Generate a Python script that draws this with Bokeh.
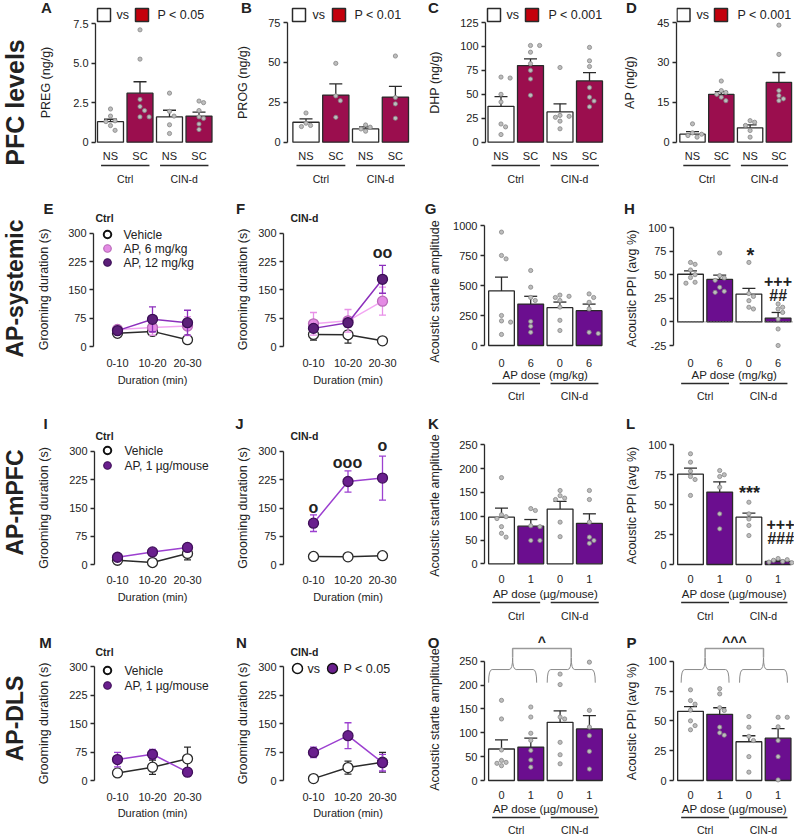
import math
from bokeh.plotting import figure
from bokeh.layouts import column, row
from bokeh.models import Range1d, Label, FixedTicker
from bokeh.embed import file_html
from bokeh.resources import INLINE

FONT = "Liberation Sans"
INK = "#222222"
EDGE = "#2a2a2a"
MAROON = "#9b0e4e"
RED = "#c4000c"
PURPLE = "#6b0e8f"
DOT_FILL = "#bdbdbd"
DOT_EDGE = "#858585"
VEH = dict(line="#2a2a2a", fill="white", edge="#2a2a2a", err="#2a2a2a")
AP6 = dict(line="#f2a6f2", fill="#e48be4", edge="#b86ab8", err="#e890e8")
AP12 = dict(line="#8c30bc", fill="#5c1f79", edge="#3a0f55", err="#8c30bc")
AP1 = dict(line="#9c40d0", fill="#6a1f8e", edge="#40105a", err="#9c40d0")
YLAB_SIZE = 12.5
TICK_SIZE = "11px"

# ---------------- data ----------------
row_titles = ["PFC levels", "AP-systemic", "AP-mPFC", "AP-DLS"]
group_names = ["Ctrl", "CIN-d"]
pfc_ticklabels = ["NS", "SC", "NS", "SC"]
sys_ticklabels = ["0", "6", "0", "6"]
loc_ticklabels = ["0", "1", "0", "1"]
time_bins = ["0-10", "10-20", "20-30"]

# A  PREG (ng/g)
preg_mean = [1.3, 3.1, 1.6, 1.65]
preg_sem = [0.15, 0.72, 0.42, 0.25]
preg_pts = [[2.1, 1.65, 1.35, 1.05, 0.75, 1.3],
            [7.1, 5.25, 2.7, 2.25, 2.0, 1.6, 1.6],
            [3.1, 1.95, 1.65, 1.1, 0.55],
            [2.6, 2.5, 2.0, 1.6, 1.5, 1.15, 0.8]]
# B  PROG (ng/g)
prog_mean = [12.5, 29.5, 8.3, 28.3]
prog_sem = [2.1, 7.0, 1.3, 6.7]
prog_pts = [[18.3, 11.9, 10.5, 9.8], [49.4, 29, 26, 15.6],
            [10.8, 9.4, 8.3, 6.9], [54, 28, 24, 15]]
# C  DHP (ng/g)
dhp_mean = [37.5, 80, 31.6, 64]
dhp_sem = [10, 7, 8.5, 8.6]
dhp_pts = [[68, 67, 50, 42, 19, 16, 8], [101, 101, 94, 82, 75, 66, 49],
           [78, 28, 27, 26, 22, 14], [99, 85, 79, 57, 47, 43, 37]]
# D  AP (ng/g)
ap_mean = [3.0, 18.0, 5.4, 22.5]
ap_sem = [1.0, 1.0, 1.1, 3.7]
ap_pts = [[6.9, 3.5, 3.0, 2.5, 1.9], [23, 19.4, 18.7, 18, 16.9, 15.6],
          [8.1, 7.5, 6.3, 4.4, 1.9], [44, 33, 19.4, 17.5, 16.3, 15.6]]

# E / F  grooming (s), systemic AP
e_veh, e_veh_sem = [35, 40, 18], [5, 8, 8]
e_ap6, e_ap6_sem = [45, 50, 54], [5, 20, 25]
e_ap12, e_ap12_sem = [42, 72, 63], [5, 33, 33]
f_veh, f_veh_sem = [32, 31, 15], [15, 22, 2]
f_ap6, f_ap6_sem = [60, 68, 120], [30, 30, 37]
f_ap12, f_ap12_sem = [48, 63, 178], [8, 10, 37]
# G  startle, systemic
g_mean = [455, 345, 315, 290]
g_sem = [115, 65, 47, 55]
g_pts = [[945, 750, 722, 250, 205, 195, 92], [625, 486, 400, 375, 200, 160, 110],
         [420, 410, 400, 375, 320, 210, 125], [430, 400, 360, 305, 110, 100]]
# H  PPI, systemic
h_mean = [50.5, 45, 29.5, 4]
h_sem = [3.5, 4.5, 6, 6]
h_pts = [[63, 61, 55, 50, 47, 42, 41], [73, 49, 46.5, 44, 36.6, 32.4, 31.3],
         [63, 30, 27, 22.5, 15.5, 13.7], [19, 15.5, 13.7, 10, 3, -7.5, -25]]

# I / J  grooming, mPFC
i_veh, i_veh_sem = [12, 6, 30], [5, 3, 17]
i_ap, i_ap_sem = [20, 34, 46], [3, 5, 10]
j_veh, j_veh_sem = [22, 21, 24], [8, 3, 5]
j_ap, j_ap_sem = [110, 220, 229], [22, 28, 58]
# K  startle, mPFC
k_mean = [98, 79, 115, 85]
k_sem = [19, 14, 16, 20]
k_pts = [[181, 103, 99, 95, 78, 64, 56], [116, 112, 80, 78, 49, 49],
         [154, 143, 138, 135, 87.5, 57], [154, 135, 87.5, 56, 49, 43]]
# L  PPI, mPFC
l_mean = [75.5, 60.5, 39.5, 2.5]
l_sem = [5, 8.5, 3.5, 1]
l_pts = [[92.5, 85.5, 78, 73.5, 71, 57.7], [78.5, 75, 73.5, 64.6, 42.3, 29.8],
         [52, 42.3, 38, 32.6, 24.2], [5, 4, 3.5, 2.5, 2, 1.5]]

# M / N  grooming, DLS
m_veh, m_veh_sem = [20, 35, 57], [8, 19, 31]
m_ap, m_ap_sem = [55, 69, 22], [19, 13, 10]
n_veh, n_veh_sem = [5, 34, 48], [2, 17, 26]
n_ap, n_ap_sem = [74, 118, 47], [14, 34, 22]
# O  startle, DLS
o_mean = [66, 70, 122, 108]
o_sem = [19, 19, 24, 28]
o_pts = [[168, 129, 64, 42, 38, 36, 31], [154, 133, 99, 84, 63, 43, 28],
         [223, 201, 133, 129, 80, 54, 35], [248, 147, 112, 94, 61, 24]]
# P  PPI, DLS
p_mean = [58, 55.5, 32.5, 35.5]
p_sem = [4, 5.5, 5, 8]
p_pts = [[76, 67, 64, 59, 50, 46, 42.5], [77, 72.6, 61, 58.7, 44.7, 40, 38],
         [53.6, 44.7, 37, 33.5, 20, 7], [53, 53, 45, 33.5, 20, 0.5]]


# ---------------- helpers ----------------
def make_label(x, y, txt, size, bold=False, italic=False, align="center",
               angle=0.0, color=INK):
    style = "normal"
    if bold and italic:
        style = "bold italic"
    elif bold:
        style = "bold"
    elif italic:
        style = "italic"
    return Label(x=x, y=y, text=txt, text_font=FONT, text_font_size=f"{size}px",
                 text_font_style=style, text_align=align, text_baseline="middle",
                 angle=angle, text_color=color)


class Panel:
    """Gutter figure (letter, axis title) + main figure whose frame spans the panel box."""

    def __init__(self, left, split, right, top, bottom, axis_x, x1_px, dx_px,
                 ylo, yhi, ylo_px, yhi_px, ticks, tick_labels):
        g = figure(width=int(split - left), height=int(bottom - top),
                   x_range=Range1d(left, split), y_range=Range1d(bottom, top),
                   output_backend="svg", toolbar_location=None, min_border=0)
        g.xaxis.visible = False
        g.yaxis.visible = False
        g.xgrid.visible = False
        g.ygrid.visible = False
        g.outline_line_color = None
        g.border_fill_color = "white"
        self.g = g

        mbl = int(round(axis_x - split))
        self.axis_x = split + mbl
        self.x1_px, self.dx = x1_px, dx_px
        self.ylo, self.ylo_px = ylo, ylo_px
        self.s = (ylo_px - yhi_px) / (yhi - ylo)
        y0 = ylo - (bottom - ylo_px) / self.s
        y1 = yhi + (yhi_px - top) / self.s
        x0 = 1 - (x1_px - self.axis_x) / dx_px
        x1 = 1 + (right - x1_px) / dx_px
        p = figure(width=int(right - split), height=int(bottom - top),
                   x_range=Range1d(x0, x1), y_range=Range1d(y0, y1),
                   output_backend="svg", toolbar_location=None,
                   min_border_left=mbl, min_border_right=0,
                   min_border_top=0, min_border_bottom=0)
        p.xaxis.visible = False
        p.xgrid.visible = False
        p.ygrid.visible = False
        p.outline_line_color = None
        p.background_fill_color = "white"
        p.border_fill_color = "white"
        ax = p.yaxis[0]
        ax.bounds = (ylo, yhi)
        ax.ticker = FixedTicker(ticks=ticks, minor_ticks=[])
        ax.major_label_overrides = {t: l for t, l in zip(ticks, tick_labels)}
        ax.major_tick_out = 4
        ax.major_tick_in = 0
        ax.minor_tick_line_color = None
        ax.axis_line_color = EDGE
        ax.axis_line_width = 1.3
        ax.major_tick_line_color = EDGE
        ax.major_tick_line_width = 1.3
        ax.major_label_text_font = FONT
        ax.major_label_text_font_size = TICK_SIZE
        ax.major_label_text_color = INK
        ax.major_label_standoff = 3
        self.p = p

    def X(self, px):
        return 1 + (px - self.x1_px) / self.dx

    def Y(self, py):
        return self.ylo + (self.ylo_px - py) / self.s

    def text(self, px, py, txt, size, data_x=None, data_y=None, **kw):
        x = self.X(px) if data_x is None else data_x
        y = self.Y(py) if data_y is None else data_y
        self.p.add_layout(make_label(x, y, txt, size, **kw))

    def gtext(self, px, py, txt, size, **kw):
        self.g.add_layout(make_label(px, py, txt, size, **kw))

    def ylabel(self, px, txt, y_center_px):
        self.gtext(px, y_center_px, txt, YLAB_SIZE, angle=math.pi / 2)

    def figs(self):
        return [self.g, self.p]


def swarm(vals, s_px, dx_px, d=4.8):
    placed, offs = [], []
    for v in vals:
        y = v * s_px
        x = 0.0
        for k in (0, 1, -1, 2, -2, 3, -3):
            x = k * d * 0.95
            if all((x - a) ** 2 + (y - b) ** 2 >= d * d for a, b in placed):
                break
        placed.append((x, y))
        offs.append(x / dx_px)
    return offs


def draw_bars(P, means, sems, pts, fill):
    xs = [1, 2, 3, 4]
    fills = ["white", fill, "white", fill]
    P.p.vbar(x=xs, top=means, bottom=0, width=0.88, fill_color=fills,
             line_color=EDGE, line_width=1.3)
    tops = [m + s for m, s in zip(means, sems)]
    P.p.segment(x0=xs, y0=means, x1=xs, y1=tops, line_color=EDGE, line_width=1.3)
    cap = 6.5 / P.dx
    P.p.segment(x0=[x - cap for x in xs], y0=tops, x1=[x + cap for x in xs], y1=tops,
                line_color=EDGE, line_width=1.3)
    dxs, dys = [], []
    for x, vals in zip(xs, pts):
        offs = swarm(vals, P.s, P.dx)
        dxs += [x + o for o in offs]
        dys += list(vals)
    P.p.scatter(dxs, dys, size=4.2, fill_color=DOT_FILL, line_color=DOT_EDGE,
                line_width=0.8)


def bar_axis_text(P, ticklabels, xlabel, tick_y, xlabel_y, line_y, group_y):
    for i, t in enumerate(ticklabels):
        P.text(0, tick_y, t, 11, data_x=i + 1)
    if xlabel:
        P.text(0, xlabel_y, xlabel, 11.5, data_x=2.5)
    ly = P.Y(line_y)
    P.p.segment(x0=[1 - 0.32, 3 - 0.32], y0=[ly, ly], x1=[2 + 0.32, 4 + 0.32],
                y1=[ly, ly], line_color=EDGE, line_width=1.5)
    for g, xc in zip(group_names, [1.5, 3.5]):
        P.text(0, group_y, g, 10.5, data_x=xc)


def draw_series(P, means, sems, st):
    xs = [1, 2, 3]
    lo = [m - s for m, s in zip(means, sems)]
    hi = [m + s for m, s in zip(means, sems)]
    cap = 3.5 / P.dx
    P.p.segment(x0=xs, y0=lo, x1=xs, y1=hi, line_color=st["err"], line_width=1.3)
    P.p.segment(x0=[x - cap for x in xs] * 2, y0=lo + hi,
                x1=[x + cap for x in xs] * 2, y1=lo + hi,
                line_color=st["err"], line_width=1.3)
    P.p.line(xs, means, line_color=st["line"], line_width=1.5)
    P.p.scatter(xs, means, size=10, fill_color=st["fill"], line_color=st["edge"],
                line_width=1.3)


def line_axis_text(P, tick_y, xlabel_y):
    for i, t in enumerate(time_bins):
        P.text(0, tick_y, t, 11, data_x=i + 1)
    P.text(0, xlabel_y, "Duration (min)", 11, data_x=2)


def pfc_legend(P, x_white, x_vs, x_red, x_p, y, ptxt):
    P.p.scatter([P.X(x_white)], [P.Y(y)], marker="square", size=13,
                fill_color="white", line_color=EDGE, line_width=1.5)
    P.p.scatter([P.X(x_red)], [P.Y(y)], marker="square", size=13,
                fill_color=RED, line_color=EDGE, line_width=1.5)
    P.text(x_vs, y, "vs", 12.5, align="left")
    P.text(x_p, y, ptxt, 12.5, align="left")


def legend_rows(P, x_mark, x_txt, entries):
    for yy, st, lab in entries:
        is_veh = st is VEH
        P.p.scatter([P.X(x_mark)], [P.Y(yy)], size=7.5, fill_color=st["fill"],
                    line_color="#111111" if is_veh else st["edge"],
                    line_width=2 if is_veh else 1.2)
        P.text(x_txt, yy, lab, 12, align="left")


def brace(P, xa, xb, y_end, y_h, y_cusp, color="#8a8a8a"):
    xc = (xa + xb) / 2
    r = 0.12
    P.p.quadratic(x0=[xa, xc - r, xc, xb - r], y0=[y_end, y_h, y_cusp, y_h],
                  x1=[xa + r, xc, xc + r, xb], y1=[y_h, y_cusp, y_h, y_end],
                  cx=[xa, xc, xc, xb], cy=[y_h, y_h, y_h, y_h],
                  line_color=color, line_width=1)
    P.p.segment(x0=[xa + r, xc + r], y0=[y_h, y_h], x1=[xc - r, xb - r], y1=[y_h, y_h],
                line_color=color, line_width=1)


def brace_pair(P, ymax, caret, shift=0.0):
    y_end, y_h, y_cusp, y_line = 0.82 * ymax, 0.93 * ymax, 1.03 * ymax, 1.107 * ymax
    w = 0.82
    c1, c2 = 1.5 + shift, 3.5 + shift
    brace(P, c1 - w, c1 + w, y_end, y_h, y_cusp)
    brace(P, c2 - w, c2 + w, y_end, y_h, y_cusp)
    P.p.line([c1, c1, c2, c2], [y_cusp, y_line, y_line, y_cusp], line_color="#9a9a9a",
             line_width=1.5)
    P.text(0, 0, caret, 14, bold=True, data_x=(c1 + c2) / 2, data_y=1.165 * ymax)


# ---------------- row 1: PFC levels ----------------
R1T, R1B = 0, 190
pA = Panel(0, 62, 228, R1T, R1B, 95, 110, 29.5, 0, 7.5, 141.7, 23,
           [0, 2.5, 5, 7.5], ["0", "2.5", "5.0", "7.5"])
pB = Panel(228, 258, 420, R1T, R1B, 287, 305.5, 29.8, 0, 75, 141.7, 22,
           [0, 25, 50, 75], ["0", "25", "50", "75"])
pC = Panel(420, 448, 615, R1T, R1B, 485, 500.5, 29.5, 0, 125, 141.7, 22,
           [0, 25, 50, 75, 100, 125], ["0", "25", "50", "75", "100", "125"])
pD = Panel(615, 645, 794, R1T, R1B, 676, 692, 28.8, 0, 45, 141.7, 22,
           [0, 15, 30, 45], ["0", "15", "30", "45"])
for P, m, s, pts in [(pA, preg_mean, preg_sem, preg_pts), (pB, prog_mean, prog_sem, prog_pts),
                     (pC, dhp_mean, dhp_sem, dhp_pts), (pD, ap_mean, ap_sem, ap_pts)]:
    draw_bars(P, m, s, pts, MAROON)
    bar_axis_text(P, pfc_ticklabels, None, 155, None, 165, 178)
for P, lx, let, ly, lab in [(pA, 46, "A", 45, "PREG (ng/g)"), (pB, 246, "B", 242, "PROG (ng/g)"),
                            (pC, 433, "C", 434, "DHP (ng/g)"), (pD, 631, "D", 629, "AP (ng/g)")]:
    P.gtext(lx, 7, let, 15, bold=True)
    P.ylabel(ly, lab, 82)
pfc_legend(pA, 103.5, 116, 141.5, 157, 14.5, "P < 0.05")
pfc_legend(pB, 298.5, 312, 338.5, 354, 14.5, "P < 0.01")
pfc_legend(pC, 493.5, 506, 531.5, 548, 14.5, "P < 0.001")
pfc_legend(pD, 683, 696, 720.5, 737, 14.5, "P < 0.001")
pA.gtext(14, 102, row_titles[0], 25, bold=True, angle=math.pi / 2)

# ---------------- row 2: AP-systemic ----------------
R2T, R2B = 190, 400
groom_ticks = [0, 75, 150, 225, 300]
groom_labels = ["0", "75", "150", "225", "300"]
pE = Panel(0, 60, 226, R2T, R2B, 93, 117, 35, 0, 300, 346, 232.7, groom_ticks, groom_labels)
pF = Panel(226, 252, 418, R2T, R2B, 283, 313, 34.5, 0, 300, 346, 232.7, groom_ticks, groom_labels)
pG = Panel(418, 445, 615, R2T, R2B, 484, 501, 29.2, 0, 1000, 345, 225,
           [0, 250, 500, 750, 1000], ["0", "250", "500", "750", "1000"])
pH = Panel(615, 643, 794, R2T, R2B, 673, 690, 29.2, -25, 100, 345, 227,
           [-25, 0, 25, 50, 75, 100], ["-25", "0", "25", "50", "75", "100"])
draw_series(pE, e_veh, e_veh_sem, VEH)
draw_series(pE, e_ap6, e_ap6_sem, AP6)
draw_series(pE, e_ap12, e_ap12_sem, AP12)
draw_series(pF, f_veh, f_veh_sem, VEH)
draw_series(pF, f_ap6, f_ap6_sem, AP6)
draw_series(pF, f_ap12, f_ap12_sem, AP12)
for P, ylx in ((pE, 43), (pF, 242)):
    line_axis_text(P, 362, 379)
    P.ylabel(ylx, "Grooming duration (s)", 289)
pE.text(95, 217, "Ctrl", 10.5, bold=True, align="left")
pF.text(290, 217, "CIN-d", 10.5, bold=True, align="left")
legend_rows(pE, 107, 123, [(234, VEH, "Vehicle"), (248, AP6, "AP, 6 mg/kg"),
                           (262, AP12, "AP, 12 mg/kg")])
pF.text(382, 252, "oo", 16, bold=True)
draw_bars(pG, g_mean, g_sem, g_pts, PURPLE)
draw_bars(pH, h_mean, h_sem, h_pts, PURPLE)
pH.p.segment(x0=[pH.X(677)], y0=[0], x1=[pH.X(794)], y1=[0], line_color="#777777",
             line_width=1.2, line_dash="1 2")
for P in (pG, pH):
    bar_axis_text(P, sys_ticklabels, "AP dose (mg/kg)", 362, 374, 383, 395)
pG.ylabel(434, "Acoustic startle amplitude", 291)
pH.ylabel(631, "Acoustic PPI (avg %)", 288)
pH.text(750, 254, "*", 20, bold=True)
pH.text(777.5, 280, "+++", 16, bold=True)
pH.text(777.5, 295, "##", 16, bold=True, italic=True)
for P, lx, let in [(pE, 48, "E"), (pF, 240, "F"), (pG, 430, "G"), (pH, 629, "H")]:
    P.gtext(lx, 208, let, 15, bold=True)
pE.gtext(14, 288, row_titles[1], 23, bold=True, angle=math.pi / 2)

# ---------------- row 3: AP-mPFC ----------------
R3T, R3B = 400, 622
pI = Panel(0, 60, 226, R3T, R3B, 94, 117, 35, 0, 300, 564.3, 450.7, groom_ticks, groom_labels)
pJ = Panel(226, 252, 418, R3T, R3B, 283, 313, 34.5, 0, 300, 564.3, 450.7, groom_ticks, groom_labels)
pK = Panel(418, 445, 615, R3T, R3B, 484, 501, 29.3, 0, 250, 563.3, 444.3,
           [0, 50, 100, 150, 200, 250], ["0", "50", "100", "150", "200", "250"])
pL = Panel(615, 643, 794, R3T, R3B, 673, 690, 29.2, 0, 100, 564, 444.3,
           [0, 25, 50, 75, 100], ["0", "25", "50", "75", "100"])
draw_series(pI, i_veh, i_veh_sem, VEH)
draw_series(pI, i_ap, i_ap_sem, AP1)
draw_series(pJ, j_veh, j_veh_sem, VEH)
draw_series(pJ, j_ap, j_ap_sem, AP1)
for P, ylx in ((pI, 43), (pJ, 242)):
    line_axis_text(P, 579, 596)
    P.ylabel(ylx, "Grooming duration (s)", 507.5)
pI.text(95, 435, "Ctrl", 10.5, bold=True, align="left")
pJ.text(290, 435, "CIN-d", 10.5, bold=True, align="left")
legend_rows(pI, 107, 124, [(450, VEH, "Vehicle"), (465, AP1, "AP, 1 µg/mouse")])
pJ.text(313, 507, "o", 16, bold=True)
pJ.text(347, 462, "ooo", 16, bold=True)
pJ.text(382, 445, "o", 16, bold=True)
draw_bars(pK, k_mean, k_sem, k_pts, PURPLE)
draw_bars(pL, l_mean, l_sem, l_pts, PURPLE)
for P in (pK, pL):
    bar_axis_text(P, loc_ticklabels, "AP dose (µg/mouse)", 578, 593, 602, 615)
pK.ylabel(434, "Acoustic startle amplitude", 505)
pL.ylabel(631, "Acoustic PPI (avg %)", 505)
pL.text(749, 492, "***", 18, bold=True)
pL.text(780, 523, "+++", 16, bold=True)
pL.text(780, 538, "###", 16, bold=True, italic=True)
for P, lx, let in [(pI, 45, "I"), (pJ, 239, "J"), (pK, 433, "K"), (pL, 630, "L")]:
    P.gtext(lx, 423, let, 15, bold=True)
pI.gtext(14, 502, row_titles[2], 23, bold=True, angle=math.pi / 2)

# ---------------- row 4: AP-DLS ----------------
R4T, R4B = 622, 834
pM = Panel(0, 60, 226, R4T, R4B, 94, 117, 35, 0, 300, 780, 666, groom_ticks, groom_labels)
pN = Panel(226, 252, 418, R4T, R4B, 283, 313, 34.5, 0, 300, 780, 666, groom_ticks, groom_labels)
pO = Panel(418, 445, 615, R4T, R4B, 484, 501, 29.3, 0, 250, 780, 660.7,
           [0, 50, 100, 150, 200, 250], ["0", "50", "100", "150", "200", "250"])
pP = Panel(615, 643, 794, R4T, R4B, 673, 690, 29.2, 0, 100, 780, 660.7,
           [0, 25, 50, 75, 100], ["0", "25", "50", "75", "100"])
draw_series(pM, m_veh, m_veh_sem, VEH)
draw_series(pM, m_ap, m_ap_sem, AP1)
draw_series(pN, n_veh, n_veh_sem, VEH)
draw_series(pN, n_ap, n_ap_sem, AP1)
for P, ylx in ((pM, 43), (pN, 242)):
    line_axis_text(P, 796, 812)
    P.ylabel(ylx, "Grooming duration (s)", 723)
pM.text(95, 651, "Ctrl", 10.5, bold=True, align="left")
pN.text(290, 651, "CIN-d", 10.5, bold=True, align="left")
legend_rows(pM, 107, 124, [(670, VEH, "Vehicle"), (685, AP1, "AP, 1 µg/mouse")])
pN.p.scatter([pN.X(297)], [pN.Y(668)], size=10, fill_color="white", line_color="#111111",
             line_width=1.5)
pN.p.scatter([pN.X(332)], [pN.Y(668)], size=10, fill_color=AP1["fill"], line_color="#111111",
             line_width=1.3)
pN.text(307, 668, "vs", 12.5, align="left")
pN.text(343, 668, "P < 0.05", 12.5, align="left")
draw_bars(pO, o_mean, o_sem, o_pts, PURPLE)
draw_bars(pP, p_mean, p_sem, p_pts, PURPLE)
for P in (pO, pP):
    bar_axis_text(P, loc_ticklabels, "AP dose (µg/mouse)", 794, 808, 817, 829)
pO.ylabel(434, "Acoustic startle amplitude", 719)
pP.ylabel(631, "Acoustic PPI (avg %)", 721)
brace_pair(pO, 250, "^", shift=-0.12)
brace_pair(pP, 100, "^^^")
for P, lx, let in [(pM, 45, "M"), (pN, 241, "N"), (pO, 433, "O"), (pP, 631, "P")]:
    P.gtext(lx, 642, let, 15, bold=True)
pM.gtext(14, 718, row_titles[3], 23, bold=True, angle=math.pi / 2)

layout = column(
    row(*(pA.figs() + pB.figs() + pC.figs() + pD.figs()), spacing=0),
    row(*(pE.figs() + pF.figs() + pG.figs() + pH.figs()), spacing=0),
    row(*(pI.figs() + pJ.figs() + pK.figs() + pL.figs()), spacing=0),
    row(*(pM.figs() + pN.figs() + pO.figs() + pP.figs()), spacing=0),
    spacing=0,
)

with open("out.html", "w") as f:
    f.write(file_html(layout, INLINE))
